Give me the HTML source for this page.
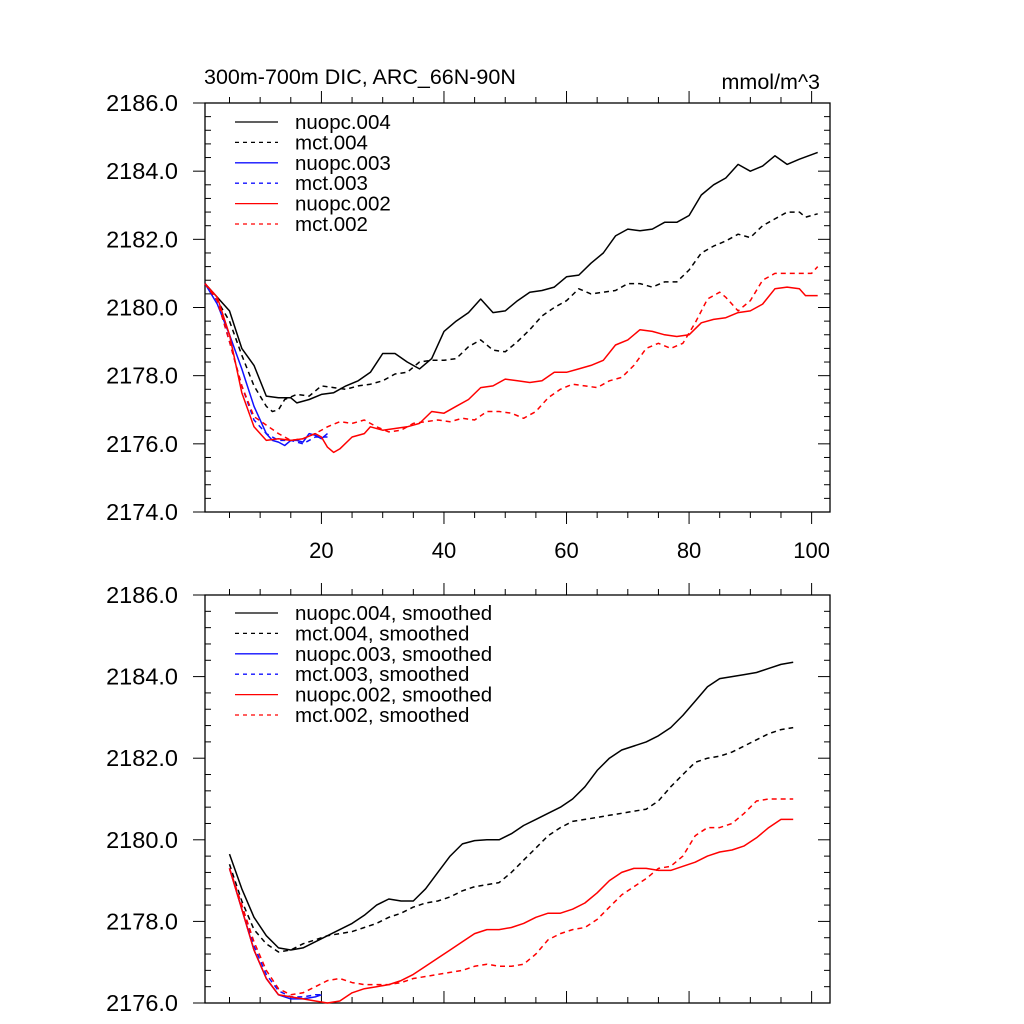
<!DOCTYPE html>
<html><head><meta charset="utf-8"><style>
html,body{margin:0;padding:0;background:#fff;}
svg{display:block;font-family:"Liberation Sans",Arial,sans-serif;}
</style></head><body>
<svg id="chart" width="1024" height="1024" viewBox="0 0 1024 1024">
<text x="204" y="84" font-size="21.5">300m-700m DIC, ARC_66N-90N</text>
<text x="820" y="89" font-size="21.5" text-anchor="end">mmol/m^3</text>
<g id="top"></g>
<g id="bot"></g>
</svg>
<script>
// ---- Top panel data (raw) ----
const n4x=[1,3,5,7,9,11,13,15,16,18,20,22,24,26,28,30,32,34,36,38,40,42,44,46,48,50,52,54,56,58,60,62,64,66,68,70,72,74,76,78,80,82,84,86,88,90,92,94,96,98,101];
const n4y=[2180.7,2180.3,2179.9,2178.8,2178.3,2177.4,2177.35,2177.35,2177.2,2177.3,2177.45,2177.5,2177.7,2177.85,2178.1,2178.65,2178.65,2178.4,2178.2,2178.5,2179.3,2179.6,2179.85,2180.25,2179.85,2179.9,2180.2,2180.45,2180.5,2180.6,2180.9,2180.95,2181.3,2181.6,2182.1,2182.3,2182.25,2182.3,2182.5,2182.5,2182.7,2183.3,2183.6,2183.8,2184.2,2184.0,2184.15,2184.45,2184.2,2184.35,2184.55];
const m4x=[1,3,5,7,9,11,12,13,14,16,18,20,22,24,26,28,30,32,34,36,38,40,42,44,46,48,50,52,54,56,58,60,62,64,66,68,70,72,74,76,78,80,82,84,86,88,90,92,94,96,98,99,101];
const m4y=[2180.7,2180.2,2179.6,2178.6,2177.7,2177.1,2176.95,2177.0,2177.3,2177.45,2177.4,2177.7,2177.65,2177.6,2177.7,2177.75,2177.85,2178.05,2178.1,2178.4,2178.45,2178.45,2178.5,2178.85,2179.05,2178.75,2178.7,2179.0,2179.35,2179.75,2180.0,2180.2,2180.55,2180.4,2180.45,2180.5,2180.7,2180.7,2180.6,2180.75,2180.75,2181.1,2181.6,2181.8,2181.95,2182.15,2182.05,2182.4,2182.6,2182.8,2182.8,2182.65,2182.75];
const n3x=[1,3,5,7,9,11,12,13,14,15,16,17,18,19,20,21];
const n3y=[2180.7,2180.1,2179.2,2178.2,2177.1,2176.3,2176.1,2176.05,2175.95,2176.1,2176.1,2176.05,2176.3,2176.25,2176.15,2176.3];
const m3x=[1,3,5,7,9,11,13,15,17,19,21];
const m3y=[2180.7,2180.2,2179.0,2177.7,2176.7,2176.3,2176.1,2176.1,2176.0,2176.2,2176.2];
const n2x=[1,3,5,7,9,11,13,15,17,19,20,21,22,23,25,27,28,30,32,34,36,38,40,42,44,46,48,50,52,54,56,58,60,62,64,66,68,70,72,74,76,78,80,82,84,86,88,90,92,94,96,98,99,101];
const n2y=[2180.7,2180.3,2179.2,2177.5,2176.5,2176.1,2176.15,2176.1,2176.15,2176.3,2176.2,2175.9,2175.75,2175.85,2176.2,2176.3,2176.5,2176.4,2176.45,2176.5,2176.6,2176.95,2176.9,2177.1,2177.3,2177.65,2177.7,2177.9,2177.85,2177.8,2177.85,2178.1,2178.1,2178.2,2178.3,2178.45,2178.9,2179.05,2179.35,2179.3,2179.2,2179.15,2179.2,2179.55,2179.65,2179.7,2179.85,2179.9,2180.1,2180.55,2180.6,2180.55,2180.35,2180.35];
const m2x=[1,3,5,7,9,11,13,15,17,19,21,23,25,27,29,31,33,35,37,39,41,43,45,47,49,51,53,55,57,59,61,63,65,67,69,71,73,75,77,79,81,83,85,86,88,90,92,94,96,98,100,101];
const m2y=[2180.7,2180.2,2179.0,2177.7,2176.8,2176.55,2176.3,2176.1,2176.15,2176.3,2176.5,2176.65,2176.6,2176.7,2176.5,2176.35,2176.4,2176.6,2176.65,2176.7,2176.65,2176.75,2176.7,2176.95,2176.95,2176.9,2176.75,2176.95,2177.35,2177.6,2177.75,2177.7,2177.65,2177.85,2177.95,2178.3,2178.8,2178.95,2178.8,2178.95,2179.55,2180.25,2180.45,2180.3,2179.9,2180.2,2180.8,2181.0,2181.0,2181.0,2181.0,2181.2];
// ---- Bottom panel data (smoothed) ----
const sx=[5,7,9,11,13,15,17,19,21,23,25,27,29,31,33,35,37,39,41,43,45,47,49,51,53,55,57,59,61,63,65,67,69,71,73,75,77,79,81,83,85,87,89,91,93,95,97];
const sn4=[2179.65,2178.8,2178.1,2177.65,2177.35,2177.3,2177.35,2177.5,2177.65,2177.8,2177.95,2178.15,2178.4,2178.55,2178.5,2178.5,2178.8,2179.2,2179.6,2179.9,2179.98,2180.0,2180.0,2180.15,2180.35,2180.5,2180.65,2180.8,2181.0,2181.3,2181.7,2182.0,2182.2,2182.3,2182.4,2182.55,2182.75,2183.05,2183.4,2183.75,2183.95,2184.0,2184.05,2184.1,2184.2,2184.3,2184.35];
const sm4=[2179.4,2178.5,2177.8,2177.45,2177.25,2177.3,2177.45,2177.55,2177.65,2177.7,2177.75,2177.85,2177.95,2178.1,2178.2,2178.35,2178.45,2178.5,2178.6,2178.75,2178.85,2178.9,2178.95,2179.2,2179.5,2179.8,2180.1,2180.3,2180.45,2180.5,2180.55,2180.6,2180.65,2180.7,2180.75,2180.95,2181.3,2181.6,2181.9,2182.0,2182.05,2182.15,2182.3,2182.45,2182.6,2182.7,2182.75];
const s3x=[5,7,9,11,13,15,17,19,20];
const sn3=[2179.3,2178.3,2177.3,2176.6,2176.2,2176.1,2176.1,2176.15,2176.2];
const sm3=[2179.3,2178.4,2177.4,2176.7,2176.3,2176.15,2176.15,2176.2,2176.2];
const sn2=[2179.3,2178.3,2177.3,2176.6,2176.2,2176.15,2176.1,2176.05,2176.0,2176.05,2176.25,2176.35,2176.4,2176.45,2176.55,2176.7,2176.9,2177.1,2177.3,2177.5,2177.7,2177.8,2177.8,2177.85,2177.95,2178.1,2178.2,2178.2,2178.3,2178.45,2178.7,2179.0,2179.2,2179.3,2179.3,2179.25,2179.25,2179.35,2179.45,2179.6,2179.7,2179.75,2179.85,2180.05,2180.3,2180.5,2180.5];
const sm2=[2179.3,2178.4,2177.5,2176.8,2176.35,2176.2,2176.25,2176.4,2176.55,2176.6,2176.5,2176.45,2176.45,2176.45,2176.5,2176.6,2176.65,2176.7,2176.75,2176.8,2176.9,2176.95,2176.9,2176.9,2176.95,2177.2,2177.55,2177.7,2177.8,2177.85,2178.05,2178.35,2178.65,2178.85,2179.05,2179.3,2179.35,2179.6,2180.1,2180.3,2180.3,2180.4,2180.65,2180.95,2181.0,2181.0,2181.0];
const xTicks=[20,40,60,80,100];
const topYTicks=[2174,2176,2178,2180,2182,2184,2186];
const botYTicks=[2176,2178,2180,2182,2184,2186];
const legendTop=["nuopc.004","mct.004","nuopc.003","mct.003","nuopc.002","mct.002"];
const legendBot=["nuopc.004, smoothed","mct.004, smoothed","nuopc.003, smoothed","mct.003, smoothed","nuopc.002, smoothed","mct.002, smoothed"];
const styles=[["#000",""],["#000","5,4"],["#1010ff",""],["#1010ff","5,4"],["#ff0000",""],["#ff0000","5,4"]];

const NS="http://www.w3.org/2000/svg";
const L=205,R=830;
const xs=t=>L+(t-1)*(R-L)/102;
function mk(p,tag,a){const e=document.createElementNS(NS,tag);for(const k in a)e.setAttribute(k,a[k]);p.appendChild(e);return e;}

function panel(g,top,bot,ymin,ymax,series,legend,legY,xLabels,bottomTicksUp){
  const ys=v=>bot-(v-ymin)*(bot-top)/(ymax-ymin);
  const f=mk(g,'rect',{x:L,y:top,width:R-L,height:bot-top,fill:'none',stroke:'#000','stroke-width':1.3});
  
  
  for(let t=5;t<=100;t+=5){
    const maj=t%20===0, len=maj?12:6, x=xs(t);
    mk(g,'line',{x1:x,x2:x,y1:top,y2:top-len,stroke:'#000','stroke-width':1});
    if(bottomTicksUp) mk(g,'line',{x1:x,x2:x,y1:bot,y2:bot-len,stroke:'#000','stroke-width':1});
    else mk(g,'line',{x1:x,x2:x,y1:bot,y2:bot+len,stroke:'#000','stroke-width':1});
  }
  if(xLabels) xTicks.forEach(t=>{
    const tx=mk(g,'text',{x:xs(t),y:bot+46,'font-size':22,'text-anchor':'middle'});
    tx.textContent=t;
    
    
  });
  for(let v=ymin;v<=ymax+1e-6;v+=0.4){
    const y=ys(v), maj=Math.abs((v-ymin)/2-Math.round((v-ymin)/2))<1e-6;
    if(maj){mk(g,'line',{x1:L-12,x2:L,y1:y,y2:y,stroke:'#000'});mk(g,'line',{x1:R-12,x2:R,y1:y,y2:y,stroke:'#000'});}
    else{mk(g,'line',{x1:L,x2:L+6,y1:y,y2:y,stroke:'#000'});mk(g,'line',{x1:R-6,x2:R,y1:y,y2:y,stroke:'#000'});}
  }
  (ymin===2174?topYTicks:botYTicks).forEach(v=>{
    const tx=mk(g,'text',{x:L-27,y:ys(v)+8,'font-size':23.5,'text-anchor':'end'});
    tx.textContent=v.toFixed(1);
    
    
  });
  series.forEach((s,i)=>{
    const pts=s[0].map((t,j)=>xs(t).toFixed(1)+','+ys(s[1][j]).toFixed(1)).join(' ');
    const pl=mk(g,'polyline',{points:pts,fill:'none',stroke:styles[i][0],'stroke-width':1.5,'stroke-dasharray':styles[i][1],'stroke-linejoin':'round'});
    
    
  });
  legend.forEach((lab,i)=>{
    const y=legY+i*20.4;
    const ln=mk(g,'line',{x1:235,x2:278,y1:y,y2:y,stroke:styles[i][0],'stroke-width':1.3,'stroke-dasharray':styles[i][1]?'4,4':''});
    
    
    const tx=mk(g,'text',{x:295,y:y+7,'font-size':20.5});
    tx.textContent=lab;
    
    
  });
}
panel(document.getElementById('top'),103,512,2174,2186,
 [[n4x,n4y],[m4x,m4y],[n3x,n3y],[m3x,m3y],[n2x,n2y],[m2x,m2y]],legendTop,122,true,false);
panel(document.getElementById('bot'),595,1003,2176,2186,
 [[sx,sn4],[sx,sm4],[s3x,sn3],[s3x,sm3],[sx,sn2],[sx,sm2]],legendBot,613,false,true);
</script>
</body></html>
